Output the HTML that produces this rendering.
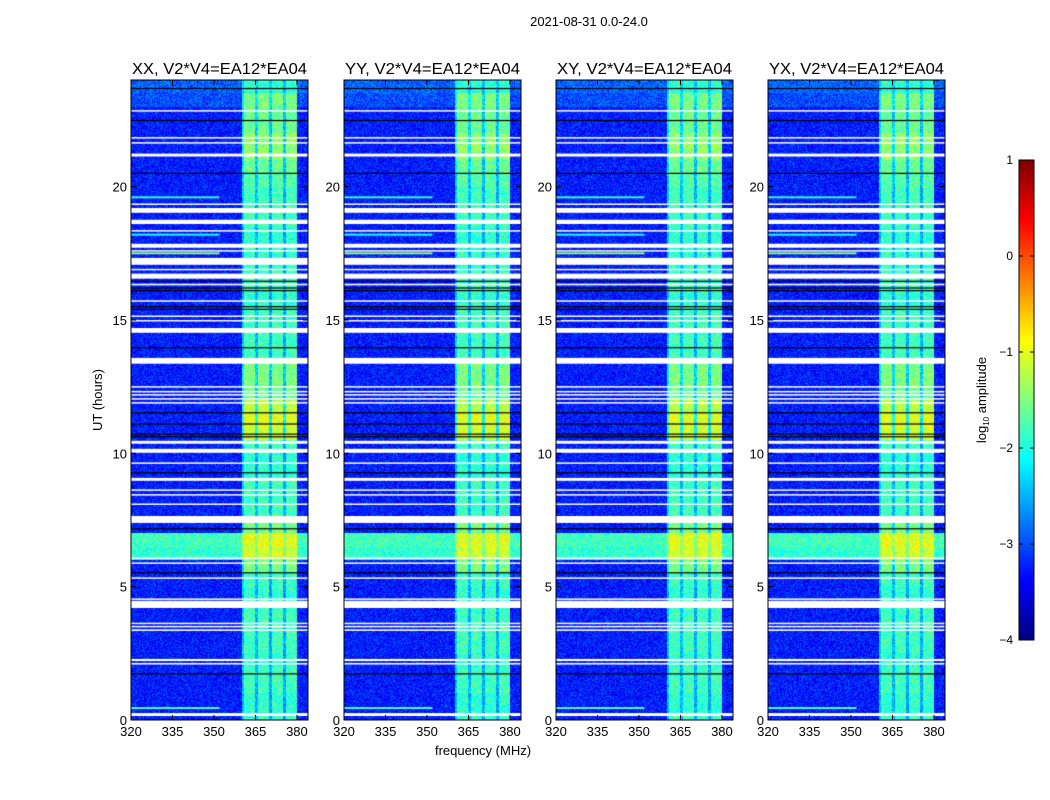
<!DOCTYPE html>
<html><head><meta charset="utf-8">
<style>
body{margin:0;background:#fff;width:1050px;height:800px;overflow:hidden;position:relative;font-family:"Liberation Sans",sans-serif}
canvas,svg{position:absolute;left:0;top:0}
</style></head>
<body>
<canvas id="cv" width="1050" height="800"></canvas>
<svg id="sv" width="1050" height="800"></svg>
<script>
// ---- data ----
const panelTitles = ["XX, V2*V4=EA12*EA04","YY, V2*V4=EA12*EA04","XY, V2*V4=EA12*EA04","YX, V2*V4=EA12*EA04"];
const panelLeft = [131,344,556,768];
const xTicks = [320,335,350,365,380];
const yTicks = [0,5,10,15,20];
const cbTicks = [1,0,-1,-2,-3,-4];
// band boost per 1-MHz channel from 320 to 383
const freqProfile = [0,0,0,0,0,0,0,0,0,0,0,0,0,0,0,0,0,0,0,0,0,0,0,0,0,0,0,0,0,0,0,0,0,0,0,0,0,0,0,0,0.6,1,1,1,1,0.55,1,1,1,1,0.5,1,1,1,1,0.5,1,1,1,1,0,0,0,0];
// band log amplitude per half hour (0..24h)
const bandLevel = [-1.9,-1.9,-1.8,-1.8,-1.9,-1.8,-1.8,-1.8,-1.8,-1.9,-1.8,-1.5,-1.1,-1.0,-1.5,-1.8,-1.8,-1.8,-1.9,-1.9,-1.8,-1.1,-1.0,-1.2,-1.6,-1.5,-1.5,-1.8,-1.8,-1.8,-1.8,-1.9,-1.8,-1.8,-1.9,-1.9,-1.9,-1.8,-1.8,-1.8,-1.7,-1.6,-1.4,-1.4,-1.6,-1.6,-1.5,-1.9];
// background log amplitude per half hour
const bgLevel = [-3.25,-3.25,-3.25,-3.25,-3.25,-3.25,-3.25,-3.25,-3.25,-3.25,-3.25,-3.25,-1.9,-1.8,-3.25,-3.25,-3.25,-3.25,-3.25,-3.25,-3.25,-3.25,-3.25,-3.25,-3.25,-3.25,-3.25,-3.25,-3.25,-3.25,-3.25,-3.25,-3.25,-3.25,-3.25,-3.25,-3.25,-3.25,-3.25,-3.25,-3.25,-3.25,-3.25,-3.25,-3.25,-3.25,-3.0,-2.9];
// flagged (white) intervals, hours
const whiteGaps = [[0.15,0.26],[2.08,2.14],[2.21,2.29],[3.34,3.4],[3.48,3.53],[3.6,3.65],[4.2,4.47],[4.52,4.56],[5.31,5.35],[5.87,5.91],[6.06,6.1],[7.39,7.65],[8.08,8.12],[8.43,8.47],[8.6,8.65],[8.97,9.08],[9.62,9.66],[10.02,10.17],[10.36,10.47],[11.88,11.92],[12.03,12.07],[12.18,12.22],[12.3,12.34],[12.48,12.52],[13.36,13.58],[14.52,14.7],[14.96,15.0],[15.13,15.17],[15.7,15.74],[16.3,16.36],[16.55,16.74],[16.88,16.92],[17.07,17.33],[17.58,17.62],[17.71,17.86],[18.33,18.37],[18.6,18.76],[19.02,19.2],[19.33,19.37],[21.13,21.24],[21.63,21.67],[21.82,21.86],[22.83,22.87]];
// black lines, hours
const blackLines = [1.73,5.52,7.17,9.27,10.62,10.72,11.1,11.52,13.96,15.4,15.5,16.1,16.2,16.45,20.5,22.48,23.68];
// RFI lines at low frequencies: [hour, fromMHz, toMHz, level]
const rfiLines = [[0.45,320,352,-1.8],[17.5,320,352,-1.4],[18.2,320,352,-2.0],[19.6,320,352,-1.9]];

// ---- scales ----
const PW=177, TOP=80, BOT=720, F0=320, F1=384;
const xS=(f,p)=>panelLeft[p]+(f-F0)/(F1-F0)*PW;
const yS=h=>BOT-h/24*(BOT-TOP);
function jet(v){const n=Math.max(0,Math.min(1,(v+4)/5));const c=x=>Math.round(255*Math.max(0,Math.min(1,x)));
 return [c(1.5-Math.abs(4*n-3)),c(1.5-Math.abs(4*n-2)),c(1.5-Math.abs(4*n-1))];}
function hash(a,b){let h=(a*374761393+b*668265263)^(a<<7);h=(h^(h>>13))*1274126177;return ((h^(h>>16))&1023)/1023;}

const cv=document.getElementById('cv');const ctx=cv.getContext('2d');
ctx.fillStyle='#fff';ctx.fillRect(0,0,1050,800);
for(let p=0;p<4;p++){
 const img=ctx.createImageData(PW,BOT-TOP);
 for(let y=0;y<BOT-TOP;y++){
  const h=(BOT-TOP-y-0.5)/(BOT-TOP)*24; const ti=Math.min(47,Math.floor(h*2));
  for(let x=0;x<PW;x++){
   const f=F0+(x+0.5)/PW*(F1-F0); const fi=Math.min(63,Math.floor(f-F0));
   const b=freqProfile[fi];
   let v=bgLevel[ti]*(1-b)+Math.max(bgLevel[ti],bandLevel[ti])*b;
   v+=(hash(x+p*1000,y)-0.5)*0.7;
   const c=jet(v);const k=(y*PW+x)*4;
   img.data[k]=c[0];img.data[k+1]=c[1];img.data[k+2]=c[2];img.data[k+3]=255;
  }}
 ctx.putImageData(img,panelLeft[p],TOP);
 rfiLines.forEach(r=>{const c=jet(r[3]);ctx.fillStyle=`rgb(${c})`;ctx.fillRect(xS(r[1],p),yS(r[0])-1,xS(r[2],p)-xS(r[1],p),2);});
 ctx.fillStyle='#fff';
 whiteGaps.forEach(g=>{const y1=yS(g[1]),y2=yS(g[0]);ctx.fillRect(panelLeft[p],y1,PW,Math.max(1.5,y2-y1));});
 ctx.fillStyle='#000';
 blackLines.forEach(h=>ctx.fillRect(panelLeft[p],yS(h)-0.6,PW,1.2));
}
// colorbar
for(let y=160;y<640;y++){const c=jet(1-(y-160)/480*5);ctx.fillStyle=`rgb(${c})`;ctx.fillRect(1019,y,15,1);}

// ---- svg ----
const NS='http://www.w3.org/2000/svg';const sv=document.getElementById('sv');
function el(t,a,txt){const e=document.createElementNS(NS,t);for(const k in a)e.setAttribute(k,a[k]);if(txt!==undefined)e.textContent=txt;sv.appendChild(e);return e;}
let e=el('text',{x:589,y:26,'font-size':13,'text-anchor':'middle'},'2021-08-31 0.0-24.0');


for(let p=0;p<4;p++){
 const L=panelLeft[p];
 e=el('rect',{x:L,y:TOP,width:PW,height:BOT-TOP,fill:'none',stroke:'#000','stroke-width':1});
 
 
 e=el('text',{x:L+PW/2,y:74,'font-size':16,'text-anchor':'middle',textLength:175,lengthAdjust:'spacingAndGlyphs'},panelTitles[p]);
 
 
 xTicks.forEach(t=>{const x=xS(t,p);
  el('line',{x1:x,x2:x,y1:BOT,y2:BOT-5,stroke:'#000'});el('line',{x1:x,x2:x,y1:TOP,y2:TOP+5,stroke:'#000'});
  e=el('text',{x:x,y:BOT+16,'font-size':13,'text-anchor':'middle'},String(t));
  
  });
 yTicks.forEach(t=>{const y=yS(t);
  el('line',{x1:L,x2:L+5,y1:y,y2:y,stroke:'#000'});el('line',{x1:L+PW,x2:L+PW-5,y1:y,y2:y,stroke:'#000'});
  e=el('text',{x:L-4,y:y+5,'font-size':13,'text-anchor':'end'},String(t));
  
  });
}
e=el('text',{x:483,y:755,'font-size':13,'text-anchor':'middle'},'frequency (MHz)');


e=el('text',{x:102,y:400,'font-size':13,'text-anchor':'middle',transform:'rotate(-90 102 400)'},'UT (hours)');


e=el('rect',{x:1019,y:160,width:15,height:480,fill:'none',stroke:'#000'});


cbTicks.forEach(t=>{const y=160+(1-t)/5*480;
 el('line',{x1:1019,x2:1023,y1:y,y2:y,stroke:'#000'});el('line',{x1:1034,x2:1030,y1:y,y2:y,stroke:'#000'});
 e=el('text',{x:1013,y:y+4,'font-size':12,'text-anchor':'end'},t<0?'\u2212'+(-t):String(t));
 
 });
const lab=el('text',{x:986,y:400,'font-size':13,'text-anchor':'middle',transform:'rotate(-90 986 400)'});


const t1=document.createElementNS(NS,'tspan');t1.textContent='log';lab.appendChild(t1);
const t2=document.createElementNS(NS,'tspan');t2.setAttribute('font-size',8);t2.setAttribute('dy',3);t2.textContent='10';lab.appendChild(t2);
const t3=document.createElementNS(NS,'tspan');t3.setAttribute('dy',-3);t3.textContent=' amplitude';lab.appendChild(t3);
</script>
</body></html>
